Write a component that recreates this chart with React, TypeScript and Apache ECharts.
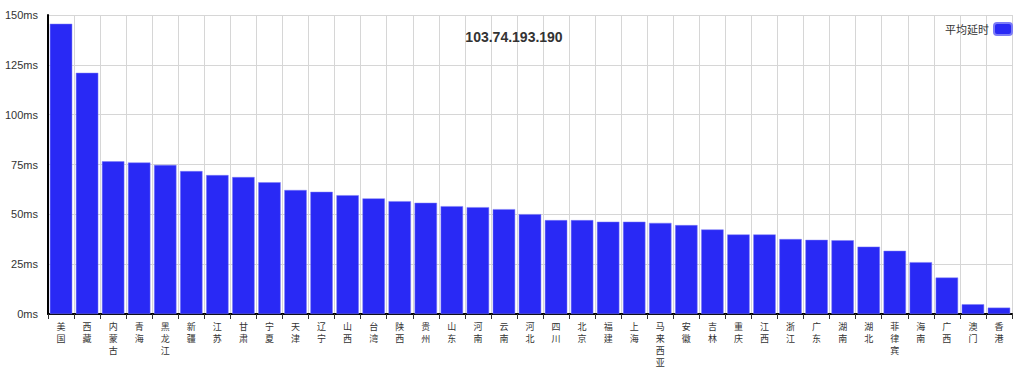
import React, { useEffect, useRef } from "react";
import * as echarts from "echarts";

const categories = [
  "美国", "西藏", "内蒙古", "青海", "黑龙江", "新疆", "江苏", "甘肃", "宁夏", "天津",
  "辽宁", "山西", "台湾", "陕西", "贵州", "山东", "河南", "云南", "河北", "四川",
  "北京", "福建", "上海", "马来西亚", "安徽", "吉林", "重庆", "江西", "浙江", "广东",
  "湖南", "湖北", "菲律宾", "海南", "广西", "澳门", "香港",
];

const avgLatency = [
  145.6, 121, 76.6, 76, 74.8, 71.7, 69.7, 68.7, 66.1, 62.2,
  61.3, 59.6, 58, 56.6, 55.8, 54.1, 53.6, 52.6, 50.1, 47.1,
  47.1, 46.3, 46.3, 45.7, 44.6, 42.4, 39.9, 39.9, 37.6, 37.2,
  37, 33.8, 31.7, 26, 18.3, 4.9, 3.2,
];

const yTicks = { min: 0, max: 150, interval: 25 };
const titleText = "103.74.193.190";
const seriesName = "平均延时";

export default function App() {
  const ref = useRef<HTMLDivElement>(null);
  useEffect(() => {
    if (!ref.current) return;
    const chart = echarts.init(ref.current, null, { renderer: "svg" });
    chart.setOption({
      animation: false,
      backgroundColor: "#ffffff",
      title: {
        text: titleText,
        left: 509,
        top: 25,
        textAlign: "center",
        textStyle: { fontSize: 14, fontWeight: "bold", color: "#333", fontFamily: "Arial, Liberation Sans, sans-serif" },
      },
      legend: {
        right: 6,
        top: 17,
        itemWidth: 18,
        itemHeight: 12,
        itemGap: 5,
        align: "right",
        textStyle: { fontSize: 11, color: "#333", fontFamily: "Noto Sans CJK SC, sans-serif" },
        data: [seriesName],
      },
      grid: { left: 48, right: 12, top: 15, bottom: 55, containLabel: false },
      xAxis: {
        type: "category",
        data: categories,
        axisLine: { show: true, lineStyle: { color: "#000", width: 2 } },
        axisTick: { show: true, alignWithLabel: false, length: 5, lineStyle: { color: "#333" } },
        splitLine: { show: true, lineStyle: { color: "#d6d6d6", width: 1 } },
        axisLabel: {
          interval: 0,
          fontSize: 9,
          lineHeight: 12,
          color: "#333",
          margin: 6,
          fontFamily: "Noto Sans CJK SC, sans-serif",
          formatter: (v: string) => v.split("").join("\n"),
        },
      },
      yAxis: {
        type: "value",
        min: yTicks.min,
        max: yTicks.max,
        interval: yTicks.interval,
        axisLine: { show: true, lineStyle: { color: "#000", width: 2 } },
        axisTick: { show: false },
        splitLine: { show: true, lineStyle: { color: "#d6d6d6", width: 1 } },
        axisLabel: {
          formatter: "{value}ms",
          fontSize: 11,
          color: "#333",
          margin: 10,
          fontFamily: "Arial, Liberation Sans, sans-serif",
        },
      },
      series: [
        {
          name: seriesName,
          type: "bar",
          data: avgLatency,
          barCategoryGap: "14%",
          itemStyle: { color: "#2929f5", borderColor: "#7c7cf7", borderWidth: 0.5, borderRadius: 0 },
        },
      ],
    });
    return () => chart.dispose();
  }, []);
  return (
    <div
      ref={ref}
      style={{ position: "fixed", left: 0, top: 0, width: 1024, height: 369, background: "#fff" }}
    />
  );
}
